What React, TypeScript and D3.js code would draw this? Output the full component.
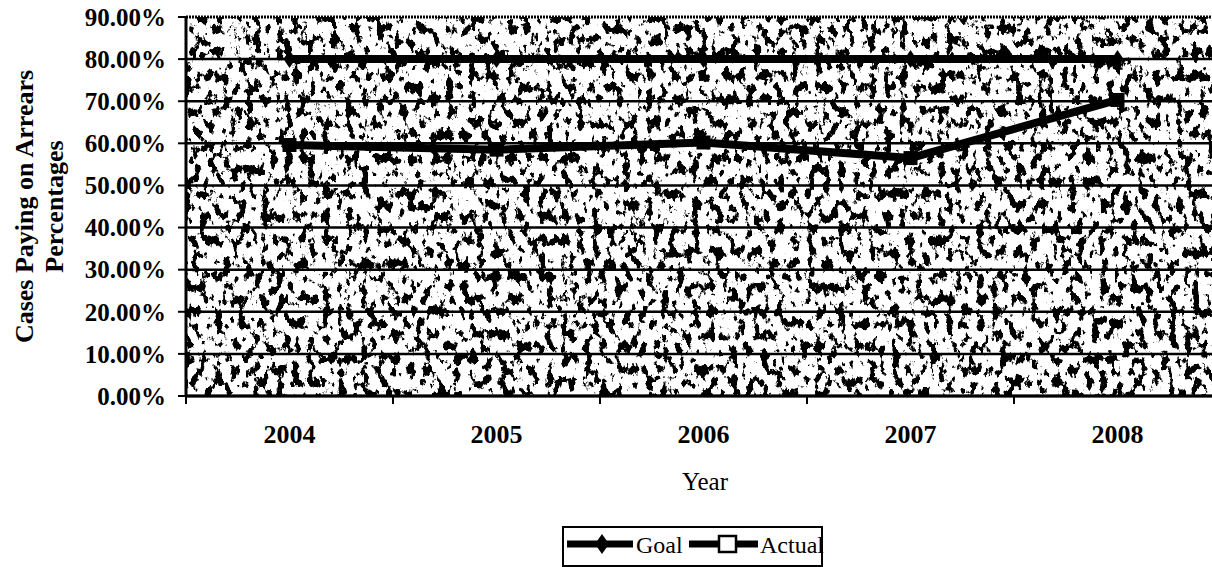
import React from "react";
import * as d3 from "d3";

const years = ["2004", "2005", "2006", "2007", "2008"];
const goal = [0.8, 0.8, 0.8, 0.8, 0.8];
const actual = [0.596, 0.585, 0.602, 0.565, 0.703];
const yTicks = [0, 0.1, 0.2, 0.3, 0.4, 0.5, 0.6, 0.7, 0.8, 0.9];

const W = 1212;
const H = 567;
const left = 186;
const right = 1221;
const top = 17;
const bottom = 396;

export default function App() {
  const x = d3.scaleBand<string>().domain(years).range([left, right]);
  const y = d3.scaleLinear().domain([0, 0.9]).range([bottom, top]);
  const cx = (d: string) => (x(d) as number) + x.bandwidth() / 2;
  const line = d3
    .line<number>()
    .x((_, i) => cx(years[i]))
    .y((v) => y(v));
  const fmt = d3.format(".2%");
  const font = "Liberation Serif, Times New Roman, serif";
  const boundaries = years.map((d) => x(d) as number).concat([right]);

  return (
    <svg
      width={W}
      height={H}
      style={{ position: "absolute", left: 0, top: 0, background: "#fff" }}
      fontFamily={font}
    >
      <defs>
        <filter
          id="speckle"
          filterUnits="userSpaceOnUse"
          x={left}
          y={top}
          width={right - left}
          height={bottom - top}
        >
          <feTurbulence
            type="fractalNoise"
            baseFrequency="0.13 0.085"
            numOctaves={5}
            seed={23}
            result="n"
          />
          <feColorMatrix
            in="n"
            type="matrix"
            values="0 0 0 0 0  0 0 0 0 0  0 0 0 0 0  -16 0 0 0 7.4"
          />
        </filter>
      </defs>
      <rect x={left} y={top} width={right - left} height={bottom - top} fill="#fff" />
      <rect
        x={left}
        y={top}
        width={right - left}
        height={bottom - top}
        fill="#000"
        filter="url(#speckle)"
      />
      {/* gridlines */}
      {yTicks.map((t) => (
        <line
          key={"g" + t}
          x1={left}
          x2={right}
          y1={y(t)}
          y2={y(t)}
          stroke="#000"
          strokeWidth={t === 0.9 ? 3 : 2.5}
          strokeDasharray={t === 0.9 ? "2 1" : undefined}
        />
      ))}
      {/* axes */}
      <line x1={left} x2={left} y1={top} y2={bottom + 1} stroke="#000" strokeWidth={3} />
      <line x1={left} x2={right} y1={bottom} y2={bottom} stroke="#000" strokeWidth={3} />
      {yTicks.map((t) => (
        <g key={"yt" + t}>
          <line x1={left - 8} x2={left} y1={y(t)} y2={y(t)} stroke="#000" strokeWidth={2} />
          <text
            x={166}
            y={y(t)}
            dy="0.35em"
            textAnchor="end"
            fontSize={25}
            fontWeight="bold"
          >
            {fmt(t)}
          </text>
        </g>
      ))}
      {boundaries.map((b, i) => (
        <line key={"xt" + i} x1={b} x2={b} y1={bottom} y2={bottom + 8} stroke="#000" strokeWidth={2} />
      ))}
      {years.map((d) => (
        <text
          key={"xl" + d}
          x={cx(d)}
          y={443}
          textAnchor="middle"
          fontSize={26}
          fontWeight="bold"
        >
          {d}
        </text>
      ))}
      {/* series */}
      <path d={line(goal) || ""} fill="none" stroke="#000" strokeWidth={8} />
      <path d={line(actual) || ""} fill="none" stroke="#000" strokeWidth={8} strokeLinejoin="round" />
      {goal.map((v, i) => {
        const px = cx(years[i]);
        const py = y(v);
        return (
          <path
            key={"gm" + i}
            d={`M${px},${py - 9}L${px + 6},${py}L${px},${py + 9}L${px - 6},${py}Z`}
            fill="#000"
          />
        );
      })}
      {actual.map((v, i) => {
        const px = cx(years[i]);
        const py = y(v);
        return (
          <rect
            key={"am" + i}
            x={px - 7}
            y={py - 7}
            width={14}
            height={14}
            fill="#000"
          />
        );
      })}
      {/* axis titles */}
      <text
        transform={`translate(33, ${(top + bottom) / 2}) rotate(-90)`}
        textAnchor="middle"
        fontSize={26}
        fontWeight="bold"
      >
        Cases Paying on Arrears
      </text>
      <text
        transform={`translate(63, ${(top + bottom) / 2}) rotate(-90)`}
        textAnchor="middle"
        fontSize={26}
        fontWeight="bold"
      >
        Percentages
      </text>
      <text x={705} y={490} textAnchor="middle" fontSize={25}>
        Year
      </text>
      {/* legend */}
      <rect x={563} y={527} width={259} height={39} fill="#fff" stroke="#000" strokeWidth={2} />
      <line x1={567} x2={633} y1={544} y2={544} stroke="#000" strokeWidth={7} />
      <path d="M602,534L609,544L602,554L595,544Z" fill="#000" />
      <text x={636} y={553} fontSize={24}>
        Goal
      </text>
      <line x1={689} x2={758} y1={544} y2={544} stroke="#000" strokeWidth={7} />
      <rect x={719} y={536} width={17} height={16} fill="#fff" stroke="#000" strokeWidth={2.5} />
      <text x={760} y={553} fontSize={24}>
        Actual
      </text>
    </svg>
  );
}
